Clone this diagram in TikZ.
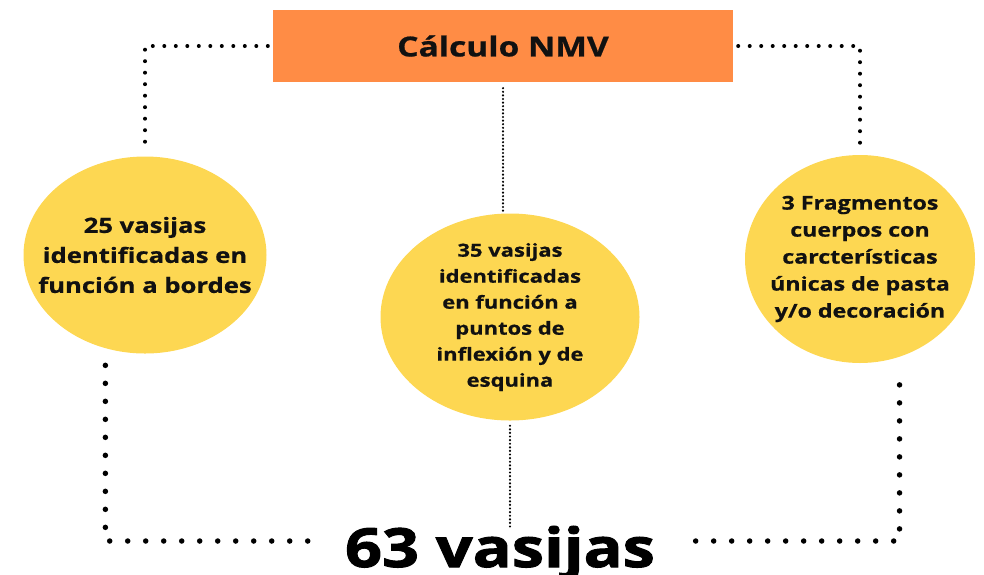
\documentclass[tikz,border=0pt]{standalone}
\usepackage{fontspec}
\usepackage{tikz}
\usetikzlibrary{shapes.geometric}
\newfontfamily\osb{Open Sans}[FakeStretch=1.22,BoldFeatures={FakeBold=0.7}]
\newfontfamily\osheavy{Open Sans}[FakeStretch=1.2,BoldFeatures={FakeBold=1.8}]
\definecolor{boxorange}{HTML}{FF8C45}
\definecolor{bubbleyellow}{HTML}{FDD752}
\definecolor{ink}{HTML}{111111}
\tikzset{%
    bubble/.style={ellipse,fill=bubbleyellow,inner sep=0pt},
    bubbletxt/.style={align=center,text=ink},
    topdots/.style={line width=4pt,line cap=round,dash pattern=on 0pt off 11.5pt},
    botdots/.style={line width=5.5pt,line cap=round,dash pattern=on 0pt off 18pt},
    finedots/.style={line width=2.4pt,line cap=round,dash pattern=on 0pt off 3.6pt}
}

\begin{document}
\begin{tikzpicture}[x=1pt,y=-1pt]
            \useasboundingbox (0,0) rectangle (984,574);
            \node[fill=boxorange,minimum width=460pt,minimum height=72pt,inner sep=0pt,
                font=\osb\bfseries\fontsize{27.5}{32}\selectfont,text=ink] (calc) at (503,46) {Cálculo NMV};

            \node[bubble,minimum width=243pt,minimum height=197pt] (left) at (145,255) {};
            \node[bubble,minimum width=259pt,minimum height=207pt] (mid) at (510,317) {};
            \node[bubble,minimum width=230pt,minimum height=208pt] (right) at (860,259) {};

            \node[bubbletxt,font=\osb\bfseries\fontsize{21}{30}\selectfont] (lefttxt) at (left)
                {25 vasijas\\identificadas en\\función a bordes};
            \node[bubbletxt,font=\osb\bfseries\fontsize{18}{26}\selectfont] (midtxt) at (mid)
                {35 vasijas\\identificadas\\en función a\\puntos de\\inflexión y de\\esquina};
            \node[bubbletxt,font=\osb\bfseries\fontsize{19}{27}\selectfont] (righttxt) at (right)
                {3 Fragmentos\\cuerpos con\\carcterísticas\\únicas de pasta\\y/o decoración};

            \node[inner sep=0pt,text height=54pt,text depth=2pt,text=black,
                font=\osheavy\bfseries\fontsize{54}{60}\selectfont] (total) at (500,541) {63 vasijas};

            \draw[topdots,shorten <=5pt,shorten >=12pt] (calc.west) -| (left.north);
            \draw[topdots,shorten <=5pt,shorten >=7pt] (calc.east) -| (right.north);
            \draw[finedots,shorten <=6pt] (calc.south) -- (calc.south |- mid.north);
            \draw[finedots,shorten <=5pt,shorten >=-14pt] (mid.south) -- (mid.south |- total.north);
            \draw[botdots,shorten <=17pt,shorten >=34pt] (left.-113) |- (total.west);
            \draw[botdots,shorten <=28pt,shorten >=38pt] (right.-68) |- (total.east);
        \end{tikzpicture}
\end{document}
